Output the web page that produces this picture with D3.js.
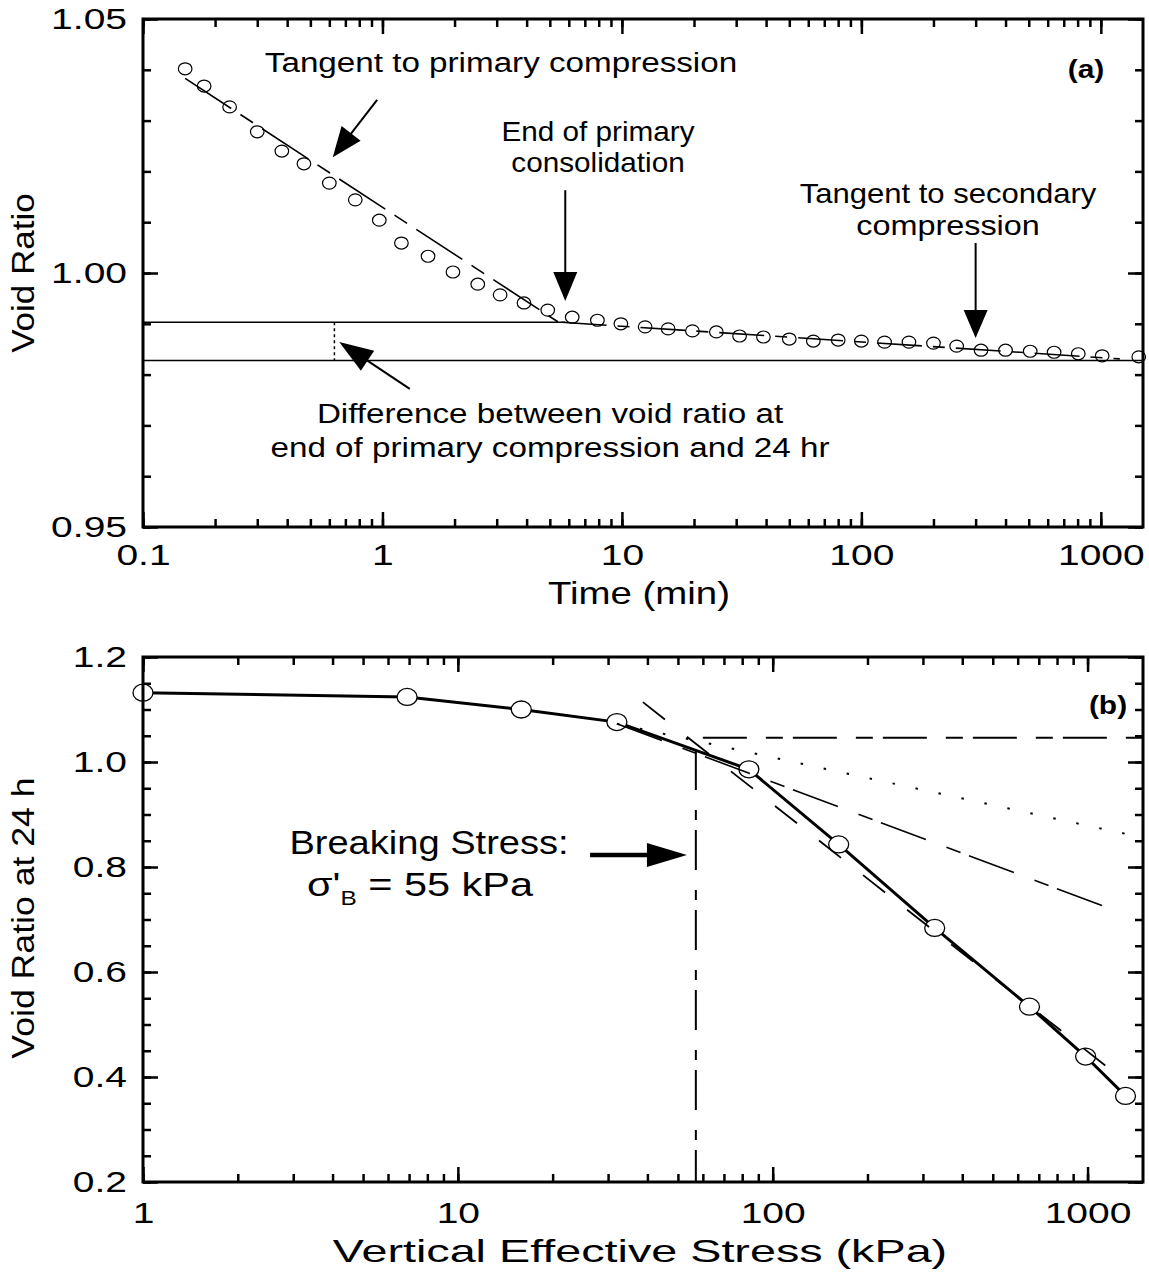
<!DOCTYPE html>
<html>
<head>
<meta charset="utf-8">
<script src="https://cdn.jsdelivr.net/npm/d3@7"></script>
<style>
body { margin: 0; background: #fff; }
text { font-family: "Liberation Sans", Arial, sans-serif; fill: #000; }
</style>
</head>
<body>
<script>
// panel (a): void ratio against time
var timeMin = [0.15, 0.18, 0.23, 0.3, 0.38, 0.47, 0.6, 0.77, 0.97, 1.2, 1.55, 1.97, 2.5, 3.1, 3.9, 4.9, 6.2, 7.9, 9.9, 12.5,
               15.6, 19.7, 24.8, 31, 39, 50, 63, 80, 100, 125, 158, 200, 250, 316, 400, 507, 638, 805, 1013, 1440];
var voidA = [1.0402, 1.0368, 1.0327, 1.0278, 1.0240, 1.0215, 1.0177, 1.0144, 1.0104, 1.0059, 1.0033, 1.0002, 0.9978, 0.9957,
             0.9941, 0.9927, 0.9913, 0.9907, 0.9900, 0.9894, 0.9890, 0.9886, 0.9884, 0.9876, 0.9874, 0.9870, 0.9866, 0.9868,
             0.9866, 0.9864, 0.9864, 0.9862, 0.9856, 0.9848, 0.9848, 0.9846, 0.9844, 0.9841, 0.9837, 0.9835];
var primaryTangent = [[0.15, 1.0383], [5.4, 0.9904]];
var secondaryTangent = [[5.6, 0.9903], [1200, 0.9831]];
var endPrimaryLine = [[0.1, 0.9903], [5.8, 0.9903]];
var hr24Line = [[0.1, 0.9828], [1500, 0.9828]];
var diffLine = [[0.63, 0.9903], [0.63, 0.9828]];
var xTicksA = [0.1, 1, 10, 100, 1000];
var yTicksA = [0.95, 1.00, 1.05];

// panel (b): void ratio at 24 h against stress
var stress = [1, 6.9, 15.9, 32, 84, 162, 327, 654, 986, 1320];
var voidB = [1.132, 1.124, 1.100, 1.076, 0.986, 0.843, 0.684, 0.534, 0.439, 0.364];
var virginLine = [[38.7, 1.114], [1219, 0.408]];
var midLine = [[32, 1.073], [1236, 0.716]];
var dotLine = [[32, 1.073], [1500, 0.856]];
var levelLine = [[60, 1.046], [1500, 1.046]];
var breakLine = [[57, 1.023], [57, 0.2]];
var xTicksB = [1, 10, 100, 1000];
var yTicksB = [0.2, 0.4, 0.6, 0.8, 1.0, 1.2];

var svg = d3.select("body").append("svg").attr("width", 1149).attr("height", 1277);

var xA = d3.scaleLog().domain([0.1, 1500]).range([143, 1143]);
var yA = d3.scaleLinear().domain([0.95, 1.05]).range([527, 19]);
var xB = d3.scaleLog().domain([1, 1500]).range([143, 1143]);
var yB = d3.scaleLinear().domain([0.2, 1.2]).range([1182, 657]);

var TX = 1.3; // tick labels in the original are drawn wide

function label(g, str, x, y, size, sx, opts) {
    opts = opts || {};
    return g.append("text")
        .attr("transform", "translate(" + x + "," + y + ")" + (opts.rotate ? " rotate(" + opts.rotate + ")" : "") + " scale(" + sx + ",1)")
        .attr("text-anchor", opts.anchor || "middle")
        .attr("font-size", size)
        .attr("font-weight", opts.bold ? "bold" : null)
        .text(str);
}

// line between two data points, with optional dash
function seg(g, x, y, pts, width, dash) {
    g.append("line")
        .attr("x1", x(pts[0][0])).attr("y1", y(pts[0][1]))
        .attr("x2", x(pts[1][0])).attr("y2", y(pts[1][1]))
        .attr("stroke", "black")
        .attr("stroke-width", width)
        .attr("stroke-dasharray", dash || null);
}

// arrow from tail to tip (data coords), filled head
function arrow(g, x, y, tail, tip, width, len, half) {
    var x1 = x(tail[0]), y1 = y(tail[1]), x2 = x(tip[0]), y2 = y(tip[1]);
    var dx = x2 - x1, dy = y2 - y1, d = Math.sqrt(dx * dx + dy * dy);
    var ux = dx / d, uy = dy / d;
    var bx = x2 - ux * len, by = y2 - uy * len;
    g.append("line").attr("x1", x1).attr("y1", y1).attr("x2", bx + ux * 2).attr("y2", by + uy * 2)
        .attr("stroke", "black").attr("stroke-width", width);
    g.append("polygon")
        .attr("points", [[x2, y2], [bx - uy * half, by + ux * half], [bx + uy * half, by - ux * half]].join(" "))
        .attr("fill", "black");
}

function frame(g, x, y, xMajor, yMajor, xFmt, yFmt, xPad, yMinorCount) {
    var r = x.range(), d = y.range();
    var xMinor = x.ticks();
    var yMinor = y.ticks(yMinorCount);
    var axes = [
        [d3.axisBottom(x), "translate(0," + d[0] + ")", xMinor, xMajor, true],
        [d3.axisTop(x), "translate(0," + d[1] + ")", xMinor, xMajor, false],
        [d3.axisLeft(y), "translate(" + r[0] + ",0)", yMinor, yMajor, true],
        [d3.axisRight(y), "translate(" + r[1] + ",0)", yMinor, yMajor, false]
    ];
    axes.forEach(function (a, i) {
        var isX = i < 2;
        var minor = g.append("g").attr("transform", a[1])
            .call(a[0].tickValues(a[2]).tickSize(-8).tickSizeOuter(0).tickFormat(""));
        minor.select(".domain").remove();
        var major = g.append("g").attr("transform", a[1])
            .call(a[0].tickValues(a[3]).tickSize(-15).tickSizeOuter(0)
                .tickPadding(isX ? xPad : 16 / TX)
                .tickFormat(a[4] ? (isX ? xFmt : yFmt) : ""));
        major.select(".domain").remove();
        g.selectAll(".tick line").attr("stroke-width", 2.5);
        major.selectAll("text").attr("font-size", 30).attr("font-family", null)
            .attr("transform", "scale(" + TX + ",1)");
    });
    g.append("rect").attr("x", r[0]).attr("y", d[1])
        .attr("width", r[1] - r[0]).attr("height", d[0] - d[1])
        .attr("fill", "none").attr("stroke", "black").attr("stroke-width", 3);
}

// ---------- panel (a) ----------
var ga = svg.append("g");
seg(ga, xA, yA, endPrimaryLine, 1.5);
seg(ga, xA, yA, hr24Line, 1.5);
seg(ga, xA, yA, diffLine, 1.5, "3,3");
seg(ga, xA, yA, primaryTangent, 1.6, "55,11,15,11");
seg(ga, xA, yA, secondaryTangent, 1.6, "45,11,12,11");

ga.selectAll("ellipse").data(timeMin).enter().append("ellipse")
    .attr("cx", function (d) { return xA(d); })
    .attr("cy", function (d, i) { return yA(voidA[i]); })
    .attr("rx", 6.8).attr("ry", 6)
    .attr("fill", "none").attr("stroke", "black").attr("stroke-width", 1.2);

arrow(ga, xA, yA, [0.95, 1.0341], [0.62, 1.0228], 2, 30, 12);
arrow(ga, xA, yA, [5.8, 1.0163], [5.8, 0.9945], 2, 29, 12);
arrow(ga, xA, yA, [300, 1.0059], [300, 0.9872], 2, 28, 12);
arrow(ga, xA, yA, [1.3, 0.9772], [0.66, 0.98644], 2, 34, 12);

label(ga, "Tangent to primary compression", 501, 72, 27, 1.23);
label(ga, "End of primary", 598, 141, 27, 1.1);
label(ga, "consolidation", 598, 172, 27, 1.1);
label(ga, "Tangent to secondary", 948, 203, 27, 1.15);
label(ga, "compression", 948, 235, 27, 1.2);
label(ga, "Difference between void ratio at", 550, 423, 27, 1.23);
label(ga, "end of primary compression and 24 hr", 550, 457, 27, 1.23);
label(ga, "(a)", 1086, 78, 26, 1.15, {bold: true});

frame(ga, xA, yA, xTicksA, yTicksA, function (d) { return String(d); }, d3.format(".2f"), 17, 10);
label(ga, "Time (min)", 639, 604, 32, 1.2);
label(ga, "Void Ratio", 34, 273, 31, 1.13, {rotate: -90});

// ---------- panel (b) ----------
var gb = svg.append("g");
var line = d3.line()
    .x(function (d) { return xB(d); })
    .y(function (d, i) { return yB(voidB[i]); });
gb.append("path").attr("d", line(stress))
    .attr("fill", "none").attr("stroke", "black").attr("stroke-width", 3);

gb.selectAll("ellipse").data(stress).enter().append("ellipse")
    .attr("cx", function (d) { return xB(d); })
    .attr("cy", function (d, i) { return yB(voidB[i]); })
    .attr("rx", 10).attr("ry", 8.5)
    .attr("fill", "white").attr("stroke", "black").attr("stroke-width", 1.3);

seg(gb, xB, yB, virginLine, 1.8, "28,28");
seg(gb, xB, yB, midLine, 1.6, "48,22,15,9");
seg(gb, xB, yB, dotLine, 2, "2.5,21");
seg(gb, xB, yB, levelLine, 2, "44,19,17,10");
seg(gb, xB, yB, breakLine, 2, "40,20,10,10");

arrow(gb, xB, yB, [26.3, 0.8229], [53.4, 0.8229], 4.5, 40, 12);

label(gb, "Breaking Stress:", 429, 854, 34, 1.12);
var sig = gb.append("text")
    .attr("transform", "translate(420,896) scale(1.22,1)")
    .attr("text-anchor", "middle")
    .attr("font-size", 34);
sig.append("tspan").text("\u03c3'");
sig.append("tspan").attr("dy", 9).attr("font-size", 20).text("B");
sig.append("tspan").attr("dy", -9).text(" = 55 kPa");
label(gb, "(b)", 1108, 714, 26, 1.15, {bold: true});

frame(gb, xB, yB, xTicksB, yTicksB, function (d) { return String(d); }, d3.format(".1f"), 20, 20);
label(gb, "Vertical Effective Stress (kPa)", 640, 1262, 32, 1.46);
label(gb, "Void Ratio at 24 h", 34, 918, 31, 1.15, {rotate: -90});
</script>
</body>
</html>
